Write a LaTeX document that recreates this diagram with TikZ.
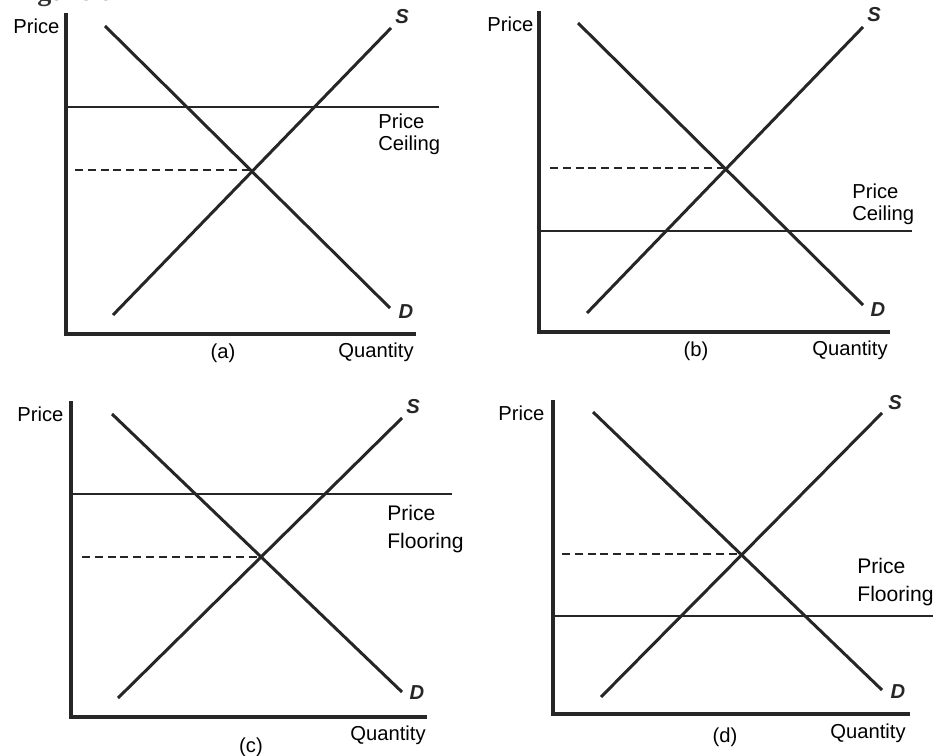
\documentclass[tikz,border=0pt]{standalone}
\usepackage{fontspec}
\setmainfont{Liberation Sans}
\newfontfamily\serifcap{Liberation Serif}
\begin{document}
\begin{tikzpicture}[x=0.02cm,y=-0.02cm,
  ink/.style={draw=black!85, line width=1.7pt},
  axis/.style={draw=black!85, line width=2.2pt, line cap=rect},
  curve/.style={ink},
  control/.style={ink},
  eqline/.style={draw=black!85, line width=1.6pt, dash pattern=on 4.5pt off 2.8pt},
  lab/.style={inner sep=0pt, font=\fontsize{11.5}{12.5}\selectfont, text=black},
  crv/.style={inner sep=0pt, font=\fontsize{11.5}{12}\selectfont\itshape\bfseries, text=black!85},
  twol/.style={lab, align=left, anchor=west}
]
\useasboundingbox (0,0) rectangle (935,756);
\node[anchor=base west, inner sep=0pt, font=\fontsize{16}{18}\selectfont\serifcap\bfseries, text=black!80] (fig) at (12,1) {Figure 6-2};

% ---------- panel (a)
\coordinate (aO) at (66,334);
\coordinate (aT) at (66,15);
\coordinate (aR) at (414,334);
\draw[axis] (aT) -- (aO) -- (aR);
\coordinate (aD1) at (105,26);  \coordinate (aD2) at (390,308);
\coordinate (aS1) at (113,315); \coordinate (aS2) at (391,28);
\draw[curve] (aD1) -- (aD2);
\draw[curve] (aS1) -- (aS2);
\coordinate (aC1) at (66,107); \coordinate (aC2) at (439,107);
\draw[control] (aC1) -- (aC2);
\coordinate (aE0) at (75,170); \coordinate (aE) at (252,170);
\draw[eqline] (aE0) -- (aE);
\node[crv] (aSl) at (402,17) {S};
\node[crv] (aDl) at (406,312) {D};
\node[lab, anchor=west] (aP) at (13,26) {Price};
\node[lab] (aQ) at (376,352) {Quantity};
\node[lab] (aN) at (223,353) {(a)};
\node[twol] (aCl) at (378,134) {Price\\Ceiling};

% ---------- panel (b)
\coordinate (bO) at (539,332);
\coordinate (bT) at (539,13);
\coordinate (bR) at (888,332);
\draw[axis] (bT) -- (bO) -- (bR);
\coordinate (bD1) at (578,23);  \coordinate (bD2) at (863,305);
\coordinate (bS1) at (587,313); \coordinate (bS2) at (863,27);
\draw[curve] (bD1) -- (bD2);
\draw[curve] (bS1) -- (bS2);
\coordinate (bC1) at (539,231); \coordinate (bC2) at (912,231);
\draw[control] (bC1) -- (bC2);
\coordinate (bE0) at (550,168); \coordinate (bE) at (724,168);
\draw[eqline] (bE0) -- (bE);
\node[crv] (bSl) at (874,15) {S};
\node[crv] (bDl) at (878,310) {D};
\node[lab, anchor=west] (bP) at (487,24) {Price};
\node[lab] (bQ) at (850,350) {Quantity};
\node[lab] (bN) at (696,351) {(b)};
\node[twol] (bCl) at (852,204) {Price\\Ceiling};

% ---------- panel (c)
\coordinate (cO) at (71,717);
\coordinate (cT) at (71,403);
\coordinate (cR) at (425,717);
\draw[axis] (cT) -- (cO) -- (cR);
\coordinate (cD1) at (112,414); \coordinate (cD2) at (402,692);
\coordinate (cS1) at (118,698); \coordinate (cS2) at (402,418);
\draw[curve] (cD1) -- (cD2);
\draw[curve] (cS1) -- (cS2);
\coordinate (cC1) at (71,494); \coordinate (cC2) at (452,494);
\draw[control] (cC1) -- (cC2);
\coordinate (cE0) at (82,557); \coordinate (cE) at (259,557);
\draw[eqline] (cE0) -- (cE);
\node[crv] (cSl) at (413,407) {S};
\node[crv] (cDl) at (417,693) {D};
\node[lab, anchor=west] (cP) at (17,414) {Price};
\node[lab] (cQ) at (388,735) {Quantity};
\node[lab] (cN) at (251,747) {(c)};
\node[twol, font=\fontsize{12}{16}\selectfont] (cCl) at (387,529) {Price\\Flooring};

% ---------- panel (d)
\coordinate (dO) at (553,714);
\coordinate (dT) at (553,402);
\coordinate (dR) at (908,714);
\draw[axis] (dT) -- (dO) -- (dR);
\coordinate (dD1) at (593,412); \coordinate (dD2) at (882,690);
\coordinate (dS1) at (601,697); \coordinate (dS2) at (882,413);
\draw[curve] (dD1) -- (dD2);
\draw[curve] (dS1) -- (dS2);
\coordinate (dC1) at (553,616); \coordinate (dC2) at (933,616);
\draw[control] (dC1) -- (dC2);
\coordinate (dE0) at (562,554); \coordinate (dE) at (741,554);
\draw[eqline] (dE0) -- (dE);
\node[crv] (dSl) at (895,403) {S};
\node[crv] (dDl) at (898,692) {D};
\node[lab, anchor=west] (dP) at (498,413) {Price};
\node[lab] (dQ) at (868,733) {Quantity};
\node[lab] (dN) at (725,737) {(d)};
\node[twol, font=\fontsize{12}{16}\selectfont] (dCl) at (857,582) {Price\\Flooring};
\end{tikzpicture}
\end{document}
